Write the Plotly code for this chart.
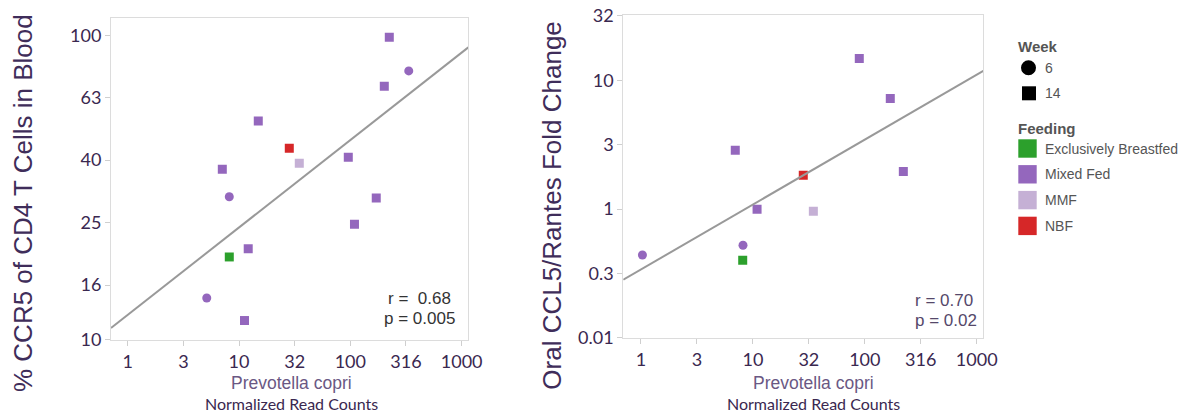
import numpy as np
import plotly.graph_objects as go

W, H = 1182, 414

# ---------------- data ----------------
feed_colors = {
    "Exclusively Breastfed": "#2ca02c",
    "Mixed Fed": "#9467bd",
    "MMF": "#c5b0d5",
    "NBF": "#d62728",
}
week_symbols = {6: "circle", 14: "square"}

# Left panel: % CCR5 of CD4 T cells in blood
left_x = [224, 335, 202, 14.9, 28.3, 34.8, 95.9, 7.08, 8.18, 171, 109, 12.1, 8.18, 5.13, 11.2]
left_y = [98.5, 76.9, 68.7, 53.1, 43.5, 38.9, 40.7, 37.2, 30.4, 30.1, 24.8, 20.7, 19.5, 14.4, 12.2]
left_week = [14, 6, 14, 14, 14, 14, 14, 14, 6, 14, 14, 14, 14, 6, 14]
left_feed = ["Mixed Fed", "Mixed Fed", "Mixed Fed", "Mixed Fed", "NBF", "MMF", "Mixed Fed",
             "Mixed Fed", "Mixed Fed", "Mixed Fed", "Mixed Fed", "Mixed Fed",
             "Exclusively Breastfed", "Mixed Fed", "Mixed Fed"]
left_fit = {"slope": 0.280, "intercept": 1.1044}   # log10(y) = intercept + slope*log10(x)
left_stats = ["r =  0.68", "p = 0.005"]

# Right panel: oral CCL5/Rantes fold change
right_x = [89.3, 169, 6.96, 28.2, 221, 10.9, 34.7, 8.16, 1.03, 8.11]
right_y = [14.8, 7.24, 2.86, 1.83, 1.96, 0.995, 0.96, 0.523, 0.44, 0.40]
right_week = [14, 14, 14, 14, 14, 14, 14, 6, 6, 14]
right_feed = ["Mixed Fed", "Mixed Fed", "Mixed Fed", "NBF", "Mixed Fed", "Mixed Fed", "MMF",
              "Mixed Fed", "Mixed Fed", "Exclusively Breastfed"]
right_fit = {"slope": 0.5045, "intercept": -0.4693}
right_stats = ["r = 0.70", "p = 0.02"]

x_tickvals = [1, 3.162, 10, 31.62, 100, 316.2, 1000]
x_ticktext = ["1", "3", "10", "32", "100", "316", "1000"]
left_y_tickvals = [10.6, 15.85, 25.12, 39.81, 63.1, 100]
left_y_ticktext = ["10", "16", "25", "40", "63", "100"]
right_y_tickvals = [0.1, 0.3162, 1, 3.162, 10, 31.62]
right_y_ticktext = ["0.01", "0.3", "1", "3", "10", "32"]

legend_week = [6, 14]
legend_feed = ["Exclusively Breastfed", "Mixed Fed", "MMF", "NBF"]

# ---------------- layout constants ----------------
TICK_COLOR = "#3a2850"
TITLE_COLOR = "#3f2d5a"
LBL_COLOR = "#6a5884"
FRAME = "#dcdcdc"

left_xrange = [-0.150, 3.060]
left_yrange = [1.024, 2.0544]
right_xrange = [-0.158, 3.059]
right_yrange = [-1.004, 1.506]


def px(x):
    return x / W


def py(y):
    return 1 - y / H


fig = go.Figure()


def add_panel(xs, ys, weeks, feeds, fit, xr, xaxis, yaxis):
    lx = np.array(xr)
    fx = 10 ** lx
    fy = 10 ** (fit["intercept"] + fit["slope"] * lx)
    fig.add_trace(go.Scatter(
        x=xs, y=ys, mode="markers", xaxis=xaxis, yaxis=yaxis, showlegend=False,
        marker=dict(size=9, color=[feed_colors[f] for f in feeds],
                    symbol=[week_symbols[w] for w in weeks], line=dict(width=0)),
        hoverinfo="x+y"))
    fig.add_trace(go.Scatter(
        x=fx, y=fy, mode="lines", xaxis=xaxis, yaxis=yaxis, showlegend=False,
        line=dict(color="#999999", width=2), hoverinfo="skip"))


add_panel(left_x, left_y, left_week, left_feed, left_fit, left_xrange, "x", "y")
add_panel(right_x, right_y, right_week, right_feed, right_fit, right_xrange, "x2", "y2")

axis_common = dict(type="log", showgrid=False, zeroline=False, showline=True, mirror=True,
                   linecolor=FRAME, linewidth=1, ticks="outside", ticklen=5,
                   tickcolor="#cfcfcf", tickwidth=1, automargin=False,
                   tickfont=dict(family="Lato", size=18, color=TICK_COLOR))

fig.update_layout(
    template="none",
    width=W, height=H, autosize=False, margin=dict(l=0, r=0, t=0, b=0, pad=0),
    paper_bgcolor="white", plot_bgcolor="white",
    xaxis=dict(axis_common, domain=[px(111), px(468.3)], range=left_xrange,
               tickvals=x_tickvals, ticktext=x_ticktext, anchor="y"),
    yaxis=dict(axis_common, domain=[py(340), py(18.3)], range=left_yrange,
               tickvals=left_y_tickvals, ticktext=left_y_ticktext, anchor="x"),
    xaxis2=dict(axis_common, domain=[px(623.3), px(983.3)], range=right_xrange,
                tickvals=x_tickvals, ticktext=x_ticktext, anchor="y2"),
    yaxis2=dict(axis_common, domain=[py(338.3), py(15.2)], range=right_yrange,
                tickvals=right_y_tickvals, ticktext=right_y_ticktext, anchor="x2"),
    showlegend=False,
)

ann = []
# axis titles
ann.append(dict(text="% CCR5 of CD4 T Cells in Blood", x=px(23), y=py(203), textangle=-90,
                font=dict(family="Liberation Sans", size=26, color=TITLE_COLOR)))
ann.append(dict(text="Oral CCL5/Rantes Fold Change", x=px(551.7), y=py(205), textangle=-90,
                font=dict(family="Liberation Sans", size=26, color=TITLE_COLOR)))
for cx in (291, 813.5):
    ann.append(dict(text="Prevotella copri", x=px(cx), y=py(383.3),
                    font=dict(family="Liberation Sans", size=17.5, color=LBL_COLOR)))
    ann.append(dict(text="Normalized Read Counts", x=px(cx), y=py(403.3),
                    font=dict(family="Lato", size=16, color=TICK_COLOR)))
# stats
ann.append(dict(text=left_stats[0], x=px(419.5), y=py(298.3),
                font=dict(family="Liberation Sans", size=17, color="#333333")))
ann.append(dict(text=left_stats[1], x=px(419.5), y=py(318.3),
                font=dict(family="Liberation Sans", size=17, color="#333333")))
ann.append(dict(text=right_stats[0], x=px(913.3), y=py(300), xanchor="left",
                font=dict(family="Liberation Sans", size=17, color="#55486a")))
ann.append(dict(text=right_stats[1], x=px(913.3), y=py(320), xanchor="left",
                font=dict(family="Liberation Sans", size=17, color="#55486a")))

# legend
LEG = "#555555"
ann.append(dict(text="<b>Week</b>", x=px(1016), y=py(46.7), xanchor="left",
                font=dict(family="Liberation Sans", size=15, color=LEG)))
shapes = []
week_rows = [67.7, 93.3]
for wk, yc in zip(legend_week, week_rows):
    if week_symbols[wk] == "circle":
        r = 7.5
        shapes.append(dict(type="circle", xref="paper", yref="paper",
                           x0=px(1028.5 - r), x1=px(1028.5 + r), y0=py(yc + r), y1=py(yc - r),
                           fillcolor="black", line=dict(width=0)))
    else:
        r = 7
        shapes.append(dict(type="rect", xref="paper", yref="paper",
                           x0=px(1029 - r), x1=px(1029 + r), y0=py(yc + r), y1=py(yc - r),
                           fillcolor="black", line=dict(width=0)))
    ann.append(dict(text=str(wk), x=px(1043.3), y=py(yc), xanchor="left",
                    font=dict(family="Liberation Sans", size=14, color=LEG)))

ann.append(dict(text="<b>Feeding</b>", x=px(1016), y=py(128.3), xanchor="left",
                font=dict(family="Liberation Sans", size=15, color=LEG)))
feed_rows = [148.5, 174.3, 200.1, 225.9]
for f, yc in zip(legend_feed, feed_rows):
    shapes.append(dict(type="rect", xref="paper", yref="paper",
                       x0=px(1018.3), x1=px(1036.7), y0=py(yc + 9.2), y1=py(yc - 9.2),
                       fillcolor=feed_colors[f], line=dict(width=0)))
    ann.append(dict(text=f, x=px(1043.3), y=py(yc), xanchor="left",
                    font=dict(family="Liberation Sans", size=14, color=LEG)))

for a in ann:
    a.setdefault("xref", "paper")
    a.setdefault("yref", "paper")
    a.setdefault("showarrow", False)
    a.setdefault("xanchor", "center")
    a.setdefault("yanchor", "middle")

fig.update_layout(annotations=ann, shapes=shapes)

fig.write_html(
    "out.html",
    config={"responsive": False, "displayModeBar": False},
    post_script="document.body.style.margin='0';document.body.style.overflow='hidden';",
)
